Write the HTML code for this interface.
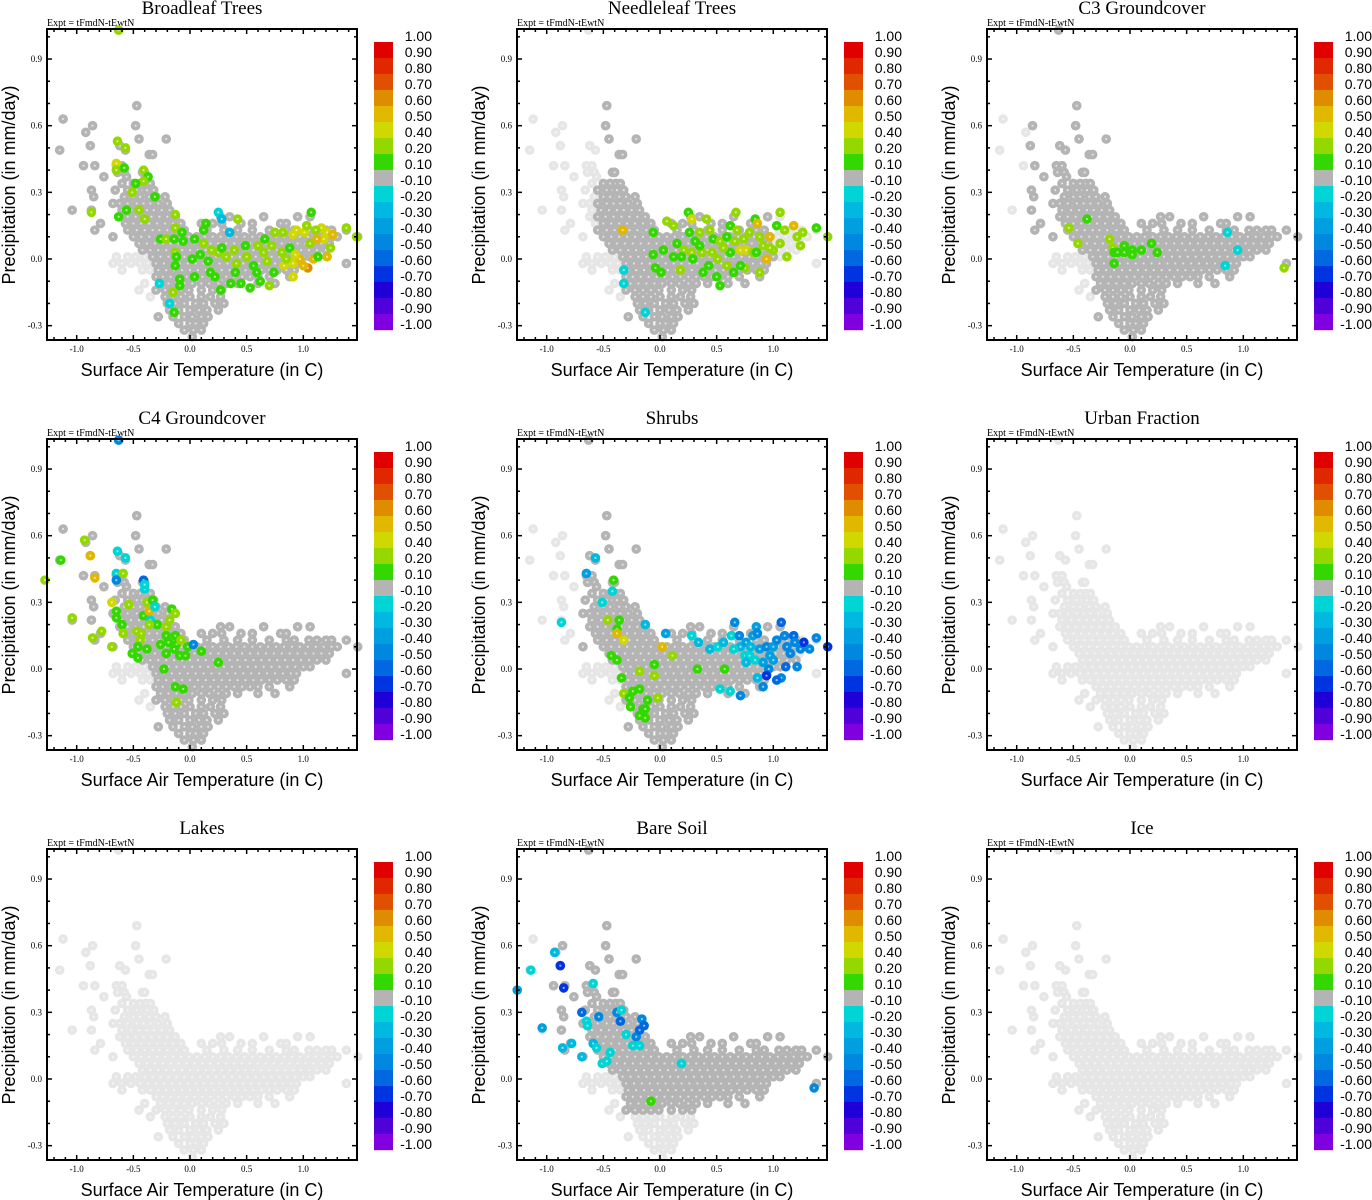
<!DOCTYPE html>
<html><head><meta charset="utf-8">
<style>
html,body{margin:0;padding:0;background:#fff;}
svg{display:block;}
.title{font-family:"Liberation Serif",serif;font-size:19px;}
.expt{font-family:"Liberation Serif",serif;font-size:10px;}
.tick{font-family:"Liberation Serif",serif;font-size:9px;}
.axl{font-family:"Liberation Sans",sans-serif;font-size:18px;}
.cbl{font-family:"Liberation Sans",sans-serif;font-size:14px;}
</style></head>
<body>
<svg id="chart" width="1372" height="1200" xmlns="http://www.w3.org/2000/svg"></svg>
<script>
const panelTitles = ["Broadleaf Trees","Needleleaf Trees","C3 Groundcover","C4 Groundcover","Shrubs","Urban Fraction","Lakes","Bare Soil","Ice"];
const xTicks = [-1.0,-0.5,0.0,0.5,1.0];
const xTickLabels = ["-1.0","-0.5","0.0","0.5","1.0"];
const yTicks = [0.9,0.6,0.3,0.0,-0.3];
const yTickLabels = ["0.9","0.6","0.3","0.0","-0.3"];
const cbLabels = ["1.00","0.90","0.80","0.70","0.60","0.50","0.40","0.20","0.10","-0.10","-0.20","-0.30","-0.40","-0.50","-0.60","-0.70","-0.80","-0.90","-1.00"];
const cbColors = ["#e00000","#e02800","#e05000","#e08c00","#e0b800","#d0d800","#94d800","#34d800","#b4b4b4","#00d4d4","#00b8e0","#00a0e0","#0088e0","#0068e0","#0034e0","#2000d8","#5000d8","#8000e0"];
const cloudRows = [
[1.03,[-0.63]],[0.69,[-0.47]],[0.63,[-1.12]],[0.60,[-0.86,-0.48]],[0.57,[-0.92]],[0.54,[-0.45,-0.21]],
[0.51,[-0.88,-0.62]],[0.49,[-1.15,-0.57]],[0.47,[-0.36,-0.33]],[0.42,[-0.94,-0.84,-0.65,-0.60]],
[0.39,[-0.64,-0.58,-0.42,-0.40]],[0.37,[-0.76,-0.56]],[0.34,[-0.60,-0.50,-0.44,-0.39,-0.35]],
[0.31,[-0.87,-0.66,-0.55,-0.47,-0.42,-0.38,-0.32]],[0.28,[-0.85,-0.58,-0.50,-0.44,-0.36,-0.30,-0.22]],
[0.25,[-0.68,-0.62,-0.55,-0.47,-0.41,-0.35,-0.28,-0.20]],[0.22,[-1.04,-0.87,-0.60,-0.52,-0.45,-0.38,-0.32,-0.25,-0.18]],
[0.19,[-0.62,-0.55,-0.48,-0.41,-0.34,-0.27,-0.20,-0.13,0.27,0.35,0.65,0.95,1.06]],
[0.16,[-0.79,-0.57,-0.50,-0.43,-0.36,-0.29,-0.22,-0.15,-0.08,0.10,0.20,0.28,0.45,0.55,0.80,0.85]],
[0.13,[-0.84,-0.55,-0.47,-0.40,-0.33,-0.27,-0.20,-0.12,-0.05,0.15,0.30,0.42,0.55,0.70,0.85,0.92,1.05,1.12,1.20,1.25,1.38]],
[0.10,[-0.68,-0.50,-0.43,-0.36,-0.29,-0.22,-0.15,-0.08,-0.01,0.06,0.13,0.20,0.27,0.34,0.41,0.48,0.55,0.62,0.69,0.76,0.83,0.90,0.97,1.04,1.11,1.18,1.25,1.30,1.48]],
[0.07,[-0.45,-0.38,-0.31,-0.24,-0.17,-0.10,-0.03,0.04,0.11,0.18,0.25,0.32,0.39,0.46,0.53,0.60,0.67,0.74,0.81,0.88,0.95,1.02,1.09,1.16,1.23]],
[0.04,[-0.42,-0.35,-0.28,-0.21,-0.14,-0.07,0.00,0.07,0.14,0.21,0.28,0.35,0.42,0.49,0.56,0.63,0.70,0.77,0.84,0.91,0.98,1.05,1.12,1.20]],
[0.01,[-0.65,-0.55,-0.48,-0.40,-0.33,-0.26,-0.19,-0.12,-0.05,0.02,0.09,0.16,0.23,0.30,0.37,0.44,0.51,0.58,0.65,0.72,0.79,0.86,0.93,1.00,1.06]],
[-0.02,[-0.68,-0.60,-0.52,-0.44,-0.37,-0.30,-0.23,-0.16,-0.09,-0.02,0.05,0.12,0.19,0.26,0.33,0.40,0.47,0.54,0.61,0.68,0.75,0.82,0.89,0.94,1.38]],
[-0.05,[-0.60,-0.42,-0.35,-0.28,-0.21,-0.14,-0.07,0.00,0.07,0.14,0.21,0.28,0.35,0.42,0.49,0.56,0.63,0.70,0.77,0.85,0.92]],
[-0.08,[-0.30,-0.24,-0.17,-0.10,-0.03,0.04,0.11,0.18,0.25,0.32,0.39,0.46,0.53,0.60,0.70,0.88]],
[-0.11,[-0.40,-0.26,-0.19,-0.12,-0.05,0.02,0.10,0.17,0.25,0.32,0.42,0.60,0.75]],
[-0.14,[-0.45,-0.30,-0.22,-0.15,-0.08,-0.01,0.10,0.20,0.28]],
[-0.17,[-0.35,-0.22,-0.15,-0.08,0.00,0.10,0.18,0.27]],
[-0.20,[-0.20,-0.13,-0.05,0.05,0.12,0.22,0.30]],
[-0.23,[-0.18,-0.10,0.00,0.08,0.15,0.25]],
[-0.26,[-0.28,-0.15,-0.05,0.02,0.10,0.16]],
[-0.29,[-0.10,0.00,0.05,0.12]],
[-0.32,[-0.05,0.03,0.10]],
[-0.35,[0.02]]
];
const darkExtent = [[-1.2,1.5,-0.4],[-0.55,1.0,-0.4],[-0.9,1.5,-0.4],[-1.2,1.5,-0.4],[-0.7,1.2,-0.4],null,null,[-0.95,1.5,-0.14],null];
const ptsBroadleaf = [[-0.63,1.03,0.4],[-0.64,0.53,0.3],[-0.57,0.50,0.3],[-0.65,0.43,0.5],[-0.65,0.40,0.4],[-0.58,0.41,0.1],[-0.41,0.40,0.4],[-0.37,0.37,0.1],[-0.41,0.35,0.3],[-0.48,0.34,0.1],[-0.51,0.30,0.3],[-0.31,0.28,0.1],[-0.87,0.21,0.3],[-0.56,0.22,0.1],[-0.63,0.19,0.1],[-0.45,0.22,0.3],[-0.40,0.18,0.3],[0.25,0.21,-0.2],[0.28,0.18,-0.3],[0.35,0.12,-0.3],[0.42,0.18,0.3],[-0.13,0.20,0.3],[-0.13,0.14,0.3],[-0.07,0.12,0.1],[-0.26,0.09,0.1],[-0.21,0.09,0.3],[-0.14,0.09,0.1],[-0.06,0.08,0.1],[0.04,0.09,0.1],[0.12,0.07,0.3],[0.14,0.16,0.1],[0.12,0.13,0.1],[-0.13,0.03,0.4],[-0.12,0.01,0.1],[-0.13,-0.03,0.1],[-0.09,-0.09,0.1],[-0.09,-0.12,0.1],[-0.15,-0.15,0.3],[-0.14,-0.24,0.1],[-0.27,-0.11,-0.2],[-0.18,-0.20,-0.2],[0.02,0.00,0.1],[0.04,-0.08,0.1],[0.09,0.02,0.1],[0.16,-0.01,0.1],[0.18,-0.06,0.1],[0.22,-0.08,0.1],[0.27,-0.14,0.1],[0.36,-0.11,0.1],[0.45,-0.11,0.1],[0.53,-0.13,0.1],[0.62,-0.10,0.1],[0.70,-0.12,0.4],[0.19,0.04,0.3],[0.25,0.03,0.3],[0.28,0.05,0.1],[0.32,0.01,0.3],[0.39,0.04,0.4],[0.41,-0.02,0.3],[0.40,-0.06,0.1],[0.49,0.06,0.1],[0.50,0.01,0.3],[0.56,-0.03,0.1],[0.59,-0.06,0.1],[0.60,0.06,0.3],[0.65,0.03,0.3],[0.68,-0.01,0.3],[0.72,0.06,0.3],[0.74,-0.06,0.1],[0.66,0.09,0.1],[0.75,0.12,0.3],[0.82,0.12,0.3],[0.81,0.03,0.3],[0.88,0.05,0.1],[0.91,0.11,0.5],[0.94,0.13,0.5],[1.01,0.12,0.5],[1.03,0.15,0.3],[1.07,0.21,0.1],[1.06,0.07,0.3],[0.83,-0.03,0.5],[0.91,-0.02,0.5],[0.91,-0.08,0.5],[0.97,0.00,0.6],[1.04,-0.04,0.7],[1.00,-0.03,0.6],[1.09,0.00,0.6],[1.13,0.01,0.1],[1.21,0.01,0.6],[1.16,0.14,0.5],[1.21,0.12,0.5],[1.26,0.11,0.6],[1.18,0.09,0.5],[1.24,0.05,0.4],[1.11,0.13,0.4],[1.38,0.14,0.4],[1.47,0.10,0.3],[1.12,0.09,0.6],[0.93,0.02,0.5],[0.85,0.00,0.4]];
const ptsNeedleleaf = [[-0.33,0.13,0.6],[-0.32,-0.05,-0.2],[-0.32,-0.11,-0.2],[-0.13,-0.24,-0.2],[-0.06,0.12,0.1],[-0.06,0.02,0.1],[-0.04,-0.04,0.1],[0.03,0.04,0.1],[0.01,-0.06,0.1],[0.06,0.17,0.4],[0.12,0.15,0.4],[0.12,0.01,0.1],[0.15,0.07,0.1],[0.18,-0.05,0.3],[0.21,0.04,0.3],[0.25,0.21,0.1],[0.28,0.18,0.5],[0.26,0.12,0.1],[0.28,0.03,0.3],[0.29,0.00,0.1],[0.35,0.12,0.3],[0.37,0.03,0.3],[0.38,-0.06,0.1],[0.44,0.13,0.3],[0.43,-0.03,0.1],[0.46,0.03,0.4],[0.47,0.09,0.1],[0.51,0.00,0.3],[0.53,-0.12,0.1],[0.53,0.08,0.4],[0.59,0.10,0.1],[0.62,0.15,0.1],[0.59,-0.03,0.3],[0.62,0.03,0.1],[0.65,-0.06,0.1],[0.67,0.21,0.4],[0.68,0.13,0.3],[0.71,0.04,0.5],[0.74,0.09,0.4],[0.75,-0.04,0.3],[0.76,0.04,0.5],[0.79,0.12,0.3],[0.82,0.03,0.3],[0.84,0.18,0.1],[0.86,0.16,0.6],[0.88,0.10,0.3],[0.88,-0.06,0.4],[0.91,0.06,0.4],[0.94,0.00,0.6],[0.97,0.10,0.6],[1.00,0.04,0.4],[1.03,0.15,0.1],[1.06,0.21,0.4],[1.10,0.13,0.3],[1.12,0.01,0.4],[1.18,0.15,0.6],[1.21,0.10,0.3],[1.26,0.12,0.3],[1.24,0.06,0.3],[1.38,0.14,0.1],[1.48,0.10,0.3],[0.35,0.06,0.1],[0.50,-0.08,0.1],[0.71,-0.03,0.1],[0.19,0.01,0.1],[0.41,0.18,0.3],[0.85,0.03,0.1],[1.06,0.07,0.3],[0.56,0.05,0.3],[0.66,0.08,0.4],[0.31,0.08,0.1],[0.97,0.05,0.3]];
const ptsC3 = [[-0.38,0.18,0.1],[-0.54,0.14,0.3],[-0.46,0.07,0.3],[-0.18,0.09,0.3],[-0.15,0.05,0.4],[-0.14,0.03,0.1],[-0.05,0.06,0.1],[-0.05,0.03,0.1],[0.02,0.04,0.1],[0.02,0.02,0.1],[0.10,0.04,0.1],[0.19,0.07,0.1],[0.24,0.03,0.1],[-0.14,-0.02,0.1],[-0.11,0.03,0.1],[0.86,0.12,-0.2],[0.84,-0.03,-0.2],[1.36,-0.04,0.4],[0.95,0.04,-0.2]];
const ptsC4 = [[-0.63,1.03,-0.5],[-1.28,0.40,0.4],[-1.14,0.49,0.1],[-0.93,0.58,0.3],[-0.88,0.51,0.6],[-0.84,0.41,0.6],[-1.04,0.23,0.3],[-0.86,0.14,0.3],[-0.78,0.17,0.3],[-0.69,0.10,0.3],[-0.69,0.30,0.5],[-0.64,0.53,-0.2],[-0.57,0.50,-0.2],[-0.65,0.43,-0.2],[-0.65,0.40,-0.5],[-0.59,0.43,0.3],[-0.41,0.40,-0.6],[-0.40,0.36,-0.2],[-0.54,0.29,0.4],[-0.65,0.26,0.1],[-0.65,0.23,0.1],[-0.60,0.20,0.1],[-0.59,0.16,0.3],[-0.47,0.17,0.3],[-0.44,0.13,0.3],[-0.46,0.10,0.1],[-0.51,0.07,0.1],[-0.46,0.05,0.1],[-0.38,0.09,0.1],[-0.41,0.24,0.1],[-0.38,0.30,0.4],[-0.36,0.26,0.6],[-0.33,0.31,0.1],[-0.31,0.28,-0.2],[-0.35,0.22,-0.2],[-0.29,0.20,0.1],[-0.21,0.19,0.3],[-0.18,0.22,0.4],[-0.16,0.27,0.1],[-0.13,0.25,0.4],[-0.26,0.11,0.1],[-0.21,0.15,0.1],[-0.19,0.12,0.1],[-0.13,0.15,0.1],[-0.12,0.11,0.1],[-0.08,0.13,0.3],[-0.21,0.07,0.1],[-0.14,0.09,0.1],[-0.09,0.06,0.1],[-0.04,0.06,0.1],[-0.02,0.10,0.1],[0.10,0.08,0.1],[0.25,0.03,0.1],[-0.23,0.00,0.1],[-0.13,-0.08,0.1],[-0.06,-0.09,0.1],[-0.12,-0.15,0.3],[-0.43,0.16,0.3],[0.03,0.11,-0.5],[-0.40,0.38,-0.2],[-0.36,0.20,0.3]];
const ptsShrubs = [[-0.57,0.50,-0.3],[-0.65,0.43,-0.4],[-0.87,0.21,-0.2],[-0.42,0.35,-0.2],[-0.51,0.30,-0.2],[-0.41,0.40,0.1],[-0.36,0.22,0.1],[-0.46,0.22,0.3],[-0.38,0.18,0.1],[-0.38,0.16,0.6],[-0.32,0.13,0.5],[-0.13,0.20,-0.3],[0.02,0.10,0.6],[0.11,0.06,0.4],[-0.43,0.06,0.1],[-0.38,0.04,0.1],[-0.34,-0.04,0.1],[-0.18,-0.01,0.3],[-0.05,0.02,0.1],[-0.05,-0.03,0.3],[-0.32,-0.11,0.3],[-0.24,-0.10,0.1],[-0.18,-0.09,0.1],[-0.27,-0.13,0.1],[-0.26,-0.17,0.1],[-0.18,-0.21,0.1],[-0.15,-0.18,0.1],[-0.13,-0.18,0.1],[-0.11,-0.14,0.1],[-0.02,-0.13,0.3],[-0.13,-0.22,0.1],[0.33,0.00,0.1],[0.57,0.00,0.1],[0.05,0.16,-0.4],[0.28,0.15,-0.2],[0.34,0.12,-0.3],[0.44,0.09,-0.3],[0.51,0.10,-0.2],[0.56,0.12,-0.3],[0.63,0.15,-0.2],[0.66,0.21,-0.5],[0.70,0.15,-0.5],[0.71,0.10,-0.3],[0.76,0.12,-0.4],[0.82,0.15,-0.4],[0.85,0.19,-0.4],[0.86,0.16,-0.5],[0.75,0.06,-0.2],[0.79,0.06,-0.2],[0.84,0.04,-0.2],[0.76,0.03,-0.3],[0.88,0.09,-0.4],[0.91,0.03,-0.4],[0.94,0.10,-0.5],[0.96,0.00,-0.5],[1.00,0.10,-0.4],[1.03,0.13,-0.5],[1.07,0.21,-0.6],[1.10,0.15,-0.5],[1.12,0.10,-0.5],[1.18,0.15,-0.6],[1.19,0.12,-0.5],[1.24,0.09,-0.5],[1.27,0.12,-0.7],[1.21,0.01,-0.5],[1.11,0.01,-0.6],[1.07,-0.04,-0.5],[1.03,-0.05,-0.6],[0.94,-0.03,-0.7],[0.91,-0.08,-0.5],[0.86,-0.04,-0.3],[0.71,-0.12,-0.5],[0.62,-0.10,-0.2],[0.53,-0.09,-0.2],[1.38,0.14,-0.5],[1.48,0.10,-0.7],[1.32,0.09,-0.5],[0.97,0.06,-0.4],[0.65,0.09,-0.2],[1.15,0.07,-0.5],[1.00,0.04,-0.4],[0.80,0.10,-0.3]];
const ptsUrban = [];
const ptsLakes = [];
const ptsBareSoil = [[-1.14,0.49,-0.2],[-1.26,0.40,-0.4],[-1.04,0.23,-0.4],[-0.93,0.57,-0.3],[-0.88,0.51,-0.7],[-0.85,0.41,-0.7],[-0.86,0.14,-0.3],[-0.78,0.16,-0.3],[-0.69,0.10,-0.3],[-0.69,0.30,-0.6],[-0.65,0.26,-0.2],[-0.64,0.24,-0.2],[-0.59,0.16,-0.3],[-0.54,0.28,-0.5],[-0.59,0.43,-0.2],[-0.38,0.30,-0.5],[-0.35,0.26,-0.6],[-0.34,0.31,-0.2],[-0.30,0.20,-0.2],[-0.21,0.19,-0.5],[-0.18,0.22,-0.6],[-0.16,0.27,-0.5],[-0.14,0.24,-0.6],[-0.56,0.14,-0.2],[-0.51,0.07,-0.2],[-0.47,0.08,-0.2],[-0.44,0.12,-0.2],[-0.24,0.15,-0.2],[-0.18,0.15,-0.2],[0.19,0.07,-0.2],[1.36,-0.04,-0.5],[-0.08,-0.10,0.1]];
const ptsIce = [];
const panelPoints = [ptsBroadleaf,ptsNeedleleaf,ptsC3,ptsC4,ptsShrubs,ptsUrban,ptsLakes,ptsBareSoil,ptsIce];

const NS = "http://www.w3.org/2000/svg";
const svg = document.getElementById("chart");
function mk(tag, attrs, parent){ const e=document.createElementNS(NS,tag); for(const k in attrs) e.setAttribute(k,attrs[k]); (parent||svg).appendChild(e); return e; }
function colorFor(v){
  if (v>0.9) return cbColors[0]; if (v>0.8) return cbColors[1]; if (v>0.7) return cbColors[2];
  if (v>0.6) return cbColors[3]; if (v>0.5) return cbColors[4]; if (v>0.4) return cbColors[5];
  if (v>0.2) return cbColors[6]; if (v>=0.1) return cbColors[7]; if (v>-0.1) return cbColors[8];
  if (v>=-0.2) return cbColors[9]; if (v>=-0.3) return cbColors[10]; if (v>=-0.4) return cbColors[11];
  if (v>=-0.5) return cbColors[12]; if (v>=-0.6) return cbColors[13]; if (v>=-0.7) return cbColors[14];
  if (v>=-0.8) return cbColors[15]; if (v>=-0.9) return cbColors[16]; return cbColors[17];
}
const cloud = [];
cloudRows.forEach(r => r[1].forEach(t => cloud.push([t, r[0]])));

panelTitles.forEach((title, i) => {
  const ox = (i%3)*470, oy = Math.floor(i/3)*410;
  const X = t => ox + 190 + t*113.3;
  const Y = p => oy + 259 - p*222.2;
  const L = ox+47, R = ox+357, T = oy+29, B = oy+340;
  const g = mk("g", {});
  
  

  const tt = mk("text", {x: ox+202, y: oy+14, "text-anchor":"middle", class:"title"}, g);
  tt.textContent = title;
  
  
  const ex = mk("text", {x: L, y: oy+26, class:"expt"}, g);
  ex.textContent = "Expt = tFmdN-tEwtN";
  
  

  const pg = mk("g", {}, g);
  
  
  const dk = darkExtent[i];
  const drawPt = (t,p,col) => {
    const c = mk("circle", {cx: X(t), cy: Y(p), r: 4.8, fill: col}, pg);
    
    
    mk("circle", {cx: X(t), cy: Y(p), r: 1.1, fill: "#ffffff", "fill-opacity": 0.6}, pg);
  };
  cloud.forEach(([t,p]) => drawPt(t,p,"#e6e6e6"));
  if (dk) cloud.forEach(([t,p]) => {
    if (t>=dk[0] && t<=dk[1] && p>=dk[2] && !(t<-0.33 && p<0.03)) drawPt(t,p,"#b4b4b4");
  });
  panelPoints[i].forEach(([t,p,v]) => drawPt(t,p,colorFor(v)));

  const fr = mk("rect", {x:L, y:T, width:R-L, height:B-T, fill:"none", stroke:"#000", "stroke-width":2}, g);
  
  
  for (let k=-12; k<=14; k++){
    const t = k/10, x = X(t); if (x<L+1||x>R-1) continue;
    const major = (k%5===0), len = major?5:3;
    mk("line",{x1:x,y1:B,x2:x,y2:B-len,stroke:"#000","stroke-width":1.5},g);
    mk("line",{x1:x,y1:T,x2:x,y2:T+len,stroke:"#000","stroke-width":1.5},g);
  }
  xTicks.forEach((t,k) => {
    const tx = mk("text",{x:X(t), y:B+12, "text-anchor":"middle", class:"tick"}, g);
    tx.textContent = xTickLabels[k];
    
    
  });
  for (let k=-3; k<=10; k++){
    const p = k/10, y = Y(p); if (y<T+1||y>B-1) continue;
    const major = (k%3===0), len = major?5:3;
    mk("line",{x1:L,y1:y,x2:L+len,y2:y,stroke:"#000","stroke-width":1.5},g);
    mk("line",{x1:R,y1:y,x2:R-len,y2:y,stroke:"#000","stroke-width":1.5},g);
  }
  yTicks.forEach((p,k) => {
    const ty = mk("text",{x:L-5, y:Y(p)+3, "text-anchor":"end", class:"tick"}, g);
    ty.textContent = yTickLabels[k];
    
    
  });
  const xl = mk("text",{x:ox+202, y:oy+376, "text-anchor":"middle", class:"axl"}, g);
  xl.textContent = "Surface Air Temperature (in C)";
  
  
  const yl = mk("text",{x:0, y:0, "text-anchor":"middle", class:"axl", transform:`translate(${ox+15},${oy+185}) rotate(-90)`}, g);
  yl.textContent = "Precipitation (in mm/day)";
  
  

  const cb = mk("g", {}, g);
  
  
  cbColors.forEach((c,k) => {
    const s = mk("rect",{x:ox+374, y:oy+42+k*16, width:19, height:16.2, fill:c}, cb);
    
    
  });
  cbLabels.forEach((lab,k) => {
    const tl = mk("text",{x:ox+432, y:oy+41+k*16, "text-anchor":"end", class:"cbl"}, cb);
    tl.textContent = lab;
    
    
  });
});
</script>
</body></html>
